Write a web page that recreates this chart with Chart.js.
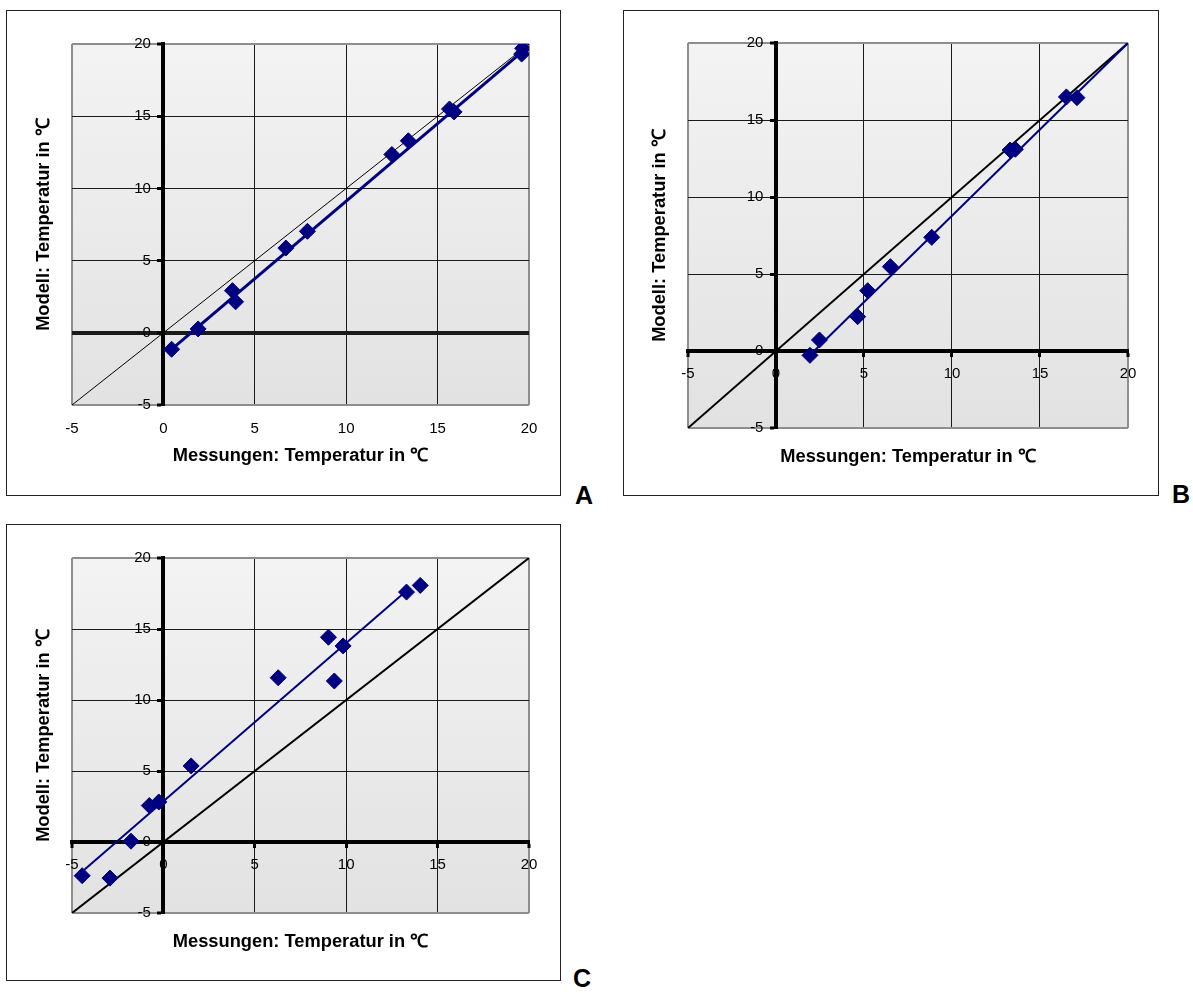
<!DOCTYPE html>
<html>
<head>
<meta charset="utf-8">
<script src="https://cdn.jsdelivr.net/npm/chart.js@4.4.1/dist/chart.umd.min.js"></script>
<style>
  body { margin: 0; background: #fff; width: 1193px; height: 993px; position: relative; font-family: "Liberation Sans", Arial, sans-serif; }
  .box { position: absolute; border: 1px solid #222; box-sizing: border-box; background: #fff; }
  .box canvas { display: block; }
  .tag { position: absolute; font-weight: bold; font-size: 25px; line-height: 1; color: #000; }
</style>
</head>
<body>
<div class="box" style="left:6px;top:10px;width:555px;height:486px"><canvas id="chartA" width="553" height="484"></canvas></div>
<div class="box" style="left:623px;top:10px;width:536px;height:486px"><canvas id="chartB" width="534" height="484"></canvas></div>
<div class="box" style="left:6px;top:524px;width:555px;height:457px"><canvas id="chartC" width="553" height="455"></canvas></div>
<div class="tag" style="left:575px;top:483px">A</div>
<div class="tag" style="left:1172px;top:482px">B</div>
<div class="tag" style="left:573px;top:966px">C</div>
<script>
// axis range / ticks
const tickValues = [-5, 0, 5, 10, 15, 20];
const xTitleText = 'Messungen: Temperatur in ℃';
const yTitleText = 'Modell: Temperatur in ℃';

// 1:1 line
const diagX = [-5, 20];
const diagY = [-5, 20];

// A
const measA  = [0.45, 1.9, 3.78, 3.95, 6.7, 7.88, 12.5, 13.4, 15.65, 15.9, 19.65, 19.6];
const modelA = [-1.14, 0.27, 2.92, 2.15, 5.87, 7.03, 12.35, 13.3, 15.5, 15.3, 19.7, 19.3];
const trendAx = [0.3, 19.75];
const trendAy = [-1.3, 19.6];

// B
const measB  = [1.93, 2.47, 4.64, 5.21, 6.5, 8.85, 13.3, 13.6, 16.5, 17.1];
const modelB = [-0.28, 0.72, 2.23, 3.92, 5.48, 7.38, 13.05, 13.1, 16.5, 16.45];
const trendBx = [1.85, 20];
const trendBy = [-0.35, 20];

// C
const measC  = [-4.44, -2.92, -1.77, -0.77, -0.25, 1.52, 6.28, 9.03, 9.35, 9.83, 13.3, 14.05];
const modelC = [-2.37, -2.54, 0.06, 2.57, 2.82, 5.36, 11.57, 14.42, 11.34, 13.81, 17.6, 18.07];
const trendCx = [-4.45, 13.35];
const trendCy = [-2.1, 17.75];

Chart.defaults.font.family = '"Liberation Sans", Arial, sans-serif';
Chart.defaults.font.size = 15;
Chart.defaults.color = '#000';

const toPts = (xs, ys) => xs.map((x, i) => ({ x: x, y: ys[i] }));
const isEdge = c => c.tick && (c.tick.value === tickValues[0] || c.tick.value === tickValues[tickValues.length - 1]);

// grey-gradient plot background
const plotBg = {
  id: 'plotBg',
  beforeDraw(chart) {
    const { ctx, chartArea: a } = chart;
    const g = ctx.createLinearGradient(0, a.top, 0, a.bottom);
    g.addColorStop(0, '#f3f3f3');
    g.addColorStop(1, '#e2e2e2');
    ctx.save();
    ctx.fillStyle = g;
    ctx.fillRect(a.left, a.top, a.right - a.left, a.bottom - a.top);
    ctx.restore();
  }
};

function grid(tickLen, tickColor) {
  return {
    color: c => isEdge(c) ? '#8e8e8e' : '#1a1a1a',
    lineWidth: c => (c.tick && c.tick.value === 0) ? 4 : (isEdge(c) ? 2 : 1),
    drawTicks: tickLen > 0,
    tickLength: tickLen,
    tickWidth: 3,
    tickColor: tickColor || '#000'
  };
}

const rangeTicks = (extra, suffix) => Object.assign({
  stepSize: 5, autoSkip: false, maxRotation: 0, minRotation: 0,
  callback: v => tickValues.includes(v) ? String(v) + (suffix || '') : ''
}, extra);

const titleScale = (pos, text, top, bottom) => ({
  type: 'linear', position: pos, display: true,
  ticks: { display: false },
  grid: { display: false, drawTicks: false },
  border: { display: false },
  title: {
    display: true, text: text, color: '#000',
    font: { size: 18.3, weight: 'bold' }, padding: { top: top, bottom: bottom }
  }
});

function makeChart(id, p) {
  const datasets = [
    {
      data: toPts(p.meas, p.model),
      pointStyle: 'rectRot', pointRadius: 8, pointBorderWidth: 1,
      backgroundColor: '#000080', borderColor: '#000080', showLine: false
    },
    {
      data: toPts(p.trendX, p.trendY),
      showLine: true, borderColor: '#000080', borderWidth: p.trendWidth, pointRadius: 0
    },
    {
      data: toPts(diagX, diagY),
      showLine: true, borderColor: '#000', borderWidth: p.diagWidth, pointRadius: 0
    }
  ];

  const scales = {
    x: p.xAtZero ? {
      type: 'linear', min: -5, max: 20,
      position: { y: 0 },
      grid: grid(4),
      border: { display: true, color: '#000', width: 4 },
      ticks: rangeTicks({ padding: 10 })
    } : {
      type: 'linear', min: -5, max: 20,
      position: 'bottom',
      grid: grid(12, 'rgba(0,0,0,0)'),
      border: { display: false },
      ticks: rangeTicks({ padding: 3 })
    },
    y: {
      type: 'linear', min: -5, max: 20,
      position: { x: 0 },
      grid: grid(4),
      border: { display: true, color: '#000', width: 4 },
      // labels sit right-aligned on the axis line; trailing spaces push them left of it
      ticks: rangeTicks({}, '   ')
    },
    yTitle: titleScale('left', yTitleText, p.ytTop, p.ytBottom),
    xTitle: titleScale('bottom', xTitleText, p.xtTop, p.xtBottom)
  };

  return new Chart(document.getElementById(id), {
    type: 'scatter',
    data: { datasets: datasets },
    options: {
      responsive: false,
      animation: false,
      layout: { padding: p.pad },
      plugins: { legend: { display: false }, tooltip: { enabled: false } },
      scales: scales
    },
    plugins: [plotBg]
  });
}

makeChart('chartA', {
  meas: measA, model: modelA, trendX: trendAx, trendY: trendAy,
  trendWidth: 3, diagWidth: 1, xAtZero: false,
  xtTop: 4, xtBottom: 28, ytTop: 26, ytBottom: 17,
  pad: { left: 0, top: 33, right: 31, bottom: 0 }
});

makeChart('chartB', {
  meas: measB, model: modelB, trendX: trendBx, trendY: trendBy,
  trendWidth: 2, diagWidth: 2, xAtZero: true,
  xtTop: 18, xtBottom: 27, ytTop: 25, ytBottom: 17,
  pad: { left: 0, top: 32, right: 30, bottom: 0 }
});

makeChart('chartC', {
  meas: measC, model: modelC, trendX: trendCx, trendY: trendCy,
  trendWidth: 2, diagWidth: 2, xAtZero: true,
  xtTop: 18, xtBottom: 27, ytTop: 26, ytBottom: 17,
  pad: { left: 0, top: 33, right: 31, bottom: 0 }
});
</script>
</body>
</html>
